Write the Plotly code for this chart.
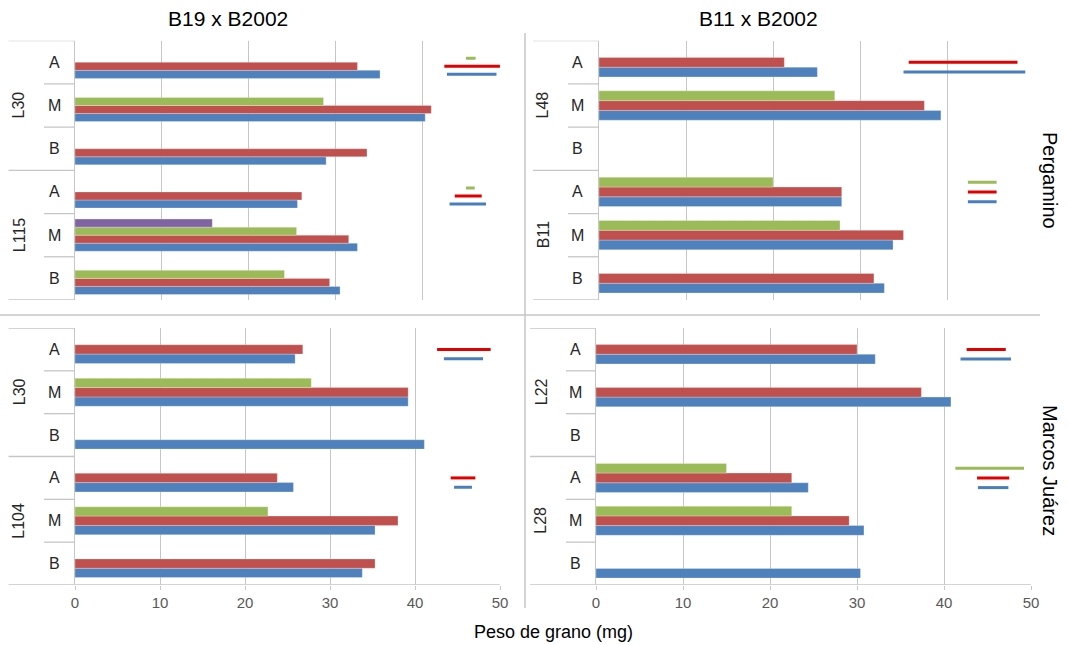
import plotly.graph_objects as go

W, H = 1068, 645

# ---------------- DATA ----------------
categories = ["A", "M", "B"]
x_ticks = [0, 10, 20, 30, 40, 50]

col_titles = ["B19 x B2002", "B11 x B2002"]
row_titles = ["Pergamino", "Marcos Juárez"]
x_title = "Peso de grano (mg)"

# Top-left: B19 x B2002, Pergamino  (rows: g1 A, M, B, g2 A, M, B)
tl_groups = ["L30", "L115"]
tl_blue = [35.1, 40.3, 28.9, 25.6, 32.5, 30.5]
tl_red = [32.5, 41.0, 33.6, 26.1, 31.5, 29.3]
tl_green = [None, 28.6, None, None, 25.5, 24.1]
tl_purple = [None, None, None, None, 15.8, None]
tl_lsd_blue = [(42.8, 48.5), (43.1, 47.3)]
tl_lsd_red = [(42.5, 48.9), (43.7, 46.8)]
tl_lsd_green = [(45.0, 46.1), (45.0, 46.0)]

# Top-right: B11 x B2002, Pergamino
tr_groups = ["L48", "B11"]
tr_blue = [25.1, 39.3, None, 27.9, 33.8, 32.8]
tr_red = [21.3, 37.4, None, 27.9, 35.0, 31.6]
tr_green = [None, 27.1, None, 20.0, 27.7, None]
tr_lsd_blue = [(35.0, 49.0), (42.4, 45.7)]
tr_lsd_red = [(35.6, 48.1), (42.4, 45.7)]
tr_lsd_green = [None, (42.4, 45.7)]

# Bottom-left: B19 x B2002, Marcos Juárez
bl_groups = ["L30", "L104"]
bl_blue = [25.9, 39.2, 41.1, 25.7, 35.3, 33.8]
bl_red = [26.8, 39.2, None, 23.8, 38.0, 35.3]
bl_green = [None, 27.8, None, None, 22.7, None]
bl_lsd_blue = [(43.4, 48.0), (44.6, 46.7)]
bl_lsd_red = [(42.6, 48.9), (44.2, 47.1)]
bl_lsd_green = [None, None]

# Bottom-right: B11 x B2002, Marcos Juárez
br_groups = ["L22", "L28"]
br_blue = [32.1, 40.8, None, 24.4, 30.8, 30.4]
br_red = [30.0, 37.4, None, 22.5, 29.1, None]
br_green = [None, None, None, 15.0, 22.5, None]
br_lsd_blue = [(41.9, 47.7), (43.9, 47.4)]
br_lsd_red = [(42.6, 47.1), (43.8, 47.5)]
br_lsd_green = [None, (41.3, 49.2)]

# ---------------- STYLE ----------------
C_BLUE, C_RED, C_GREEN, C_PURPLE = "#4F81BD", "#C0504D", "#9BBB59", "#8064A2"
L_BLUE, L_RED, L_GREEN = "#4A7EBB", "#E00000", "#9BBB59"
GRID = "#C6C6C6"
FONT = "Liberation Sans"


def px(x):
    return x / W


def py(y):
    return 1 - y / H


panels = [
    dict(ax="", groups=tl_groups, series=[(tl_blue, C_BLUE), (tl_red, C_RED), (tl_green, C_GREEN), (tl_purple, C_PURPLE)],
         lsd=[(tl_lsd_blue, L_BLUE), (tl_lsd_red, L_RED), (tl_lsd_green, L_GREEN)], slot=0.186,
         x0=75, x1=509.5, top=40.7, bot=300, outer=8.5, short=44, lab=54, glab=19, bottom=False),
    dict(ax="2", groups=tr_groups, series=[(tr_blue, C_BLUE), (tr_red, C_RED), (tr_green, C_GREEN)],
         lsd=[(tr_lsd_blue, L_BLUE), (tr_lsd_red, L_RED), (tr_lsd_green, L_GREEN)], slot=0.226,
         x0=599, x1=1034, top=40.7, bot=300, outer=533, short=568, lab=577, glab=543, bottom=False),
    dict(ax="3", groups=bl_groups, series=[(bl_blue, C_BLUE), (bl_red, C_RED), (bl_green, C_GREEN)],
         lsd=[(bl_lsd_blue, L_BLUE), (bl_lsd_red, L_RED), (bl_lsd_green, L_GREEN)], slot=0.218,
         x0=75, x1=500, top=328, bot=585, outer=8.5, short=44, lab=54, glab=19, bottom=True),
    dict(ax="4", groups=br_groups, series=[(br_blue, C_BLUE), (br_red, C_RED), (br_green, C_GREEN)],
         lsd=[(br_lsd_blue, L_BLUE), (br_lsd_red, L_RED), (br_lsd_green, L_GREEN)], slot=0.226,
         x0=596, x1=1031, top=328, bot=585, outer=530, short=566, lab=575, glab=541, bottom=True),
]

fig = go.Figure()
shapes = []
annotations = []
layout = {}

positions = [5, 4, 3, 2, 1, 0]  # top row first

for p in panels:
    xa, ya = "x" + p["ax"], "y" + p["ax"]
    n = len(p["series"])
    w = p["slot"]
    for k, (vals, color) in enumerate(p["series"]):
        fig.add_trace(go.Bar(
            x=vals, y=positions, orientation="h", xaxis=xa, yaxis=ya,
            marker=dict(color=color, line=dict(width=0.6, color="rgba(255,255,255,0.45)")),
            width=w, offset=-n * w / 2 + k * w, showlegend=False, hoverinfo="x",
        ))
    # LSD lines in row A of each group
    for k, (ints, color) in enumerate(p["lsd"]):
        for gi, iv in enumerate(ints):
            if iv is None:
                continue
            yc = positions[gi * 3] - n * w / 2 + (k + 0.5) * w
            fig.add_trace(go.Scatter(
                x=[iv[0], iv[1]], y=[yc, yc], mode="lines", xaxis=xa, yaxis=ya,
                line=dict(color=color, width=3), showlegend=False, hoverinfo="skip",
            ))

    key = p["ax"]
    layout["xaxis" + key] = dict(
        domain=[px(p["x0"]), px(p["x1"])], anchor=ya, range=[0, 50],
        tickvals=x_ticks, ticktext=[str(t) for t in x_ticks],
        showgrid=True, gridcolor=GRID, gridwidth=1.3, zeroline=False,
        showticklabels=p["bottom"], ticks="outside" if p["bottom"] else "",
        ticklen=4, tickcolor=GRID, tickwidth=1.3,
        tickfont=dict(family=FONT, size=15, color="#595959"),
        showline=False, fixedrange=True, automargin=False,
    )
    layout["yaxis" + key] = dict(
        domain=[py(p["bot"]), py(p["top"])], anchor=xa, range=[-0.5, 5.5],
        showticklabels=False, showgrid=False, zeroline=False,
        showline=True, linecolor=GRID, linewidth=1.3, ticks="", fixedrange=True, automargin=False,
    )

    # hierarchical category axis: divider lines
    for yb in [5.5, 4.5, 3.5, 2.5, 1.5, 0.5, -0.5]:
        long_line = yb in (5.5, 2.5, -0.5)
        xs = p["outer"] if long_line else p["short"]
        xe = p["x1"] if (yb == -0.5 and p["bottom"]) else p["x0"]
        shapes.append(dict(type="line", xref="paper", yref=ya, x0=px(xs), x1=px(xe), y0=yb, y1=yb,
                           line=dict(color=GRID, width=1.3)))
    for i, pos in enumerate(positions):
        annotations.append(dict(text=categories[i % 3], xref="paper", yref=ya, x=px(p["lab"]), y=pos,
                                showarrow=False, font=dict(family=FONT, size=16, color="#262626"),
                                xanchor="center", yanchor="middle"))
    for gi, g in enumerate(p["groups"]):
        annotations.append(dict(text=g, xref="paper", yref=ya, x=px(p["glab"]), y=positions[gi * 3 + 1],
                                showarrow=False, textangle=-90, font=dict(family=FONT, size=16, color="#262626"),
                                xanchor="center", yanchor="middle"))

# panel separators
shapes.append(dict(type="line", xref="paper", yref="paper", x0=px(525), x1=px(525), y0=py(33), y1=py(608),
                   line=dict(color=GRID, width=1.5)))
shapes.append(dict(type="line", xref="paper", yref="paper", x0=px(0), x1=px(1040), y0=py(315), y1=py(315),
                   line=dict(color=GRID, width=1.5)))


def label(text, x, y, size, angle=0):
    annotations.append(dict(text=text, xref="paper", yref="paper", x=px(x), y=py(y), showarrow=False,
                            xanchor="center", yanchor="middle", textangle=angle,
                            font=dict(family=FONT, size=size, color="#000000")))


label(col_titles[0], 228, 19, 21)
label(col_titles[1], 758, 19, 21)
label(row_titles[0], 1050, 180, 20, 90)
label(row_titles[1], 1050, 470, 20, 90)
label(x_title, 553, 632, 18)

fig.update_layout(
    width=W, height=H, margin=dict(l=0, r=0, t=0, b=0, autoexpand=False),
    paper_bgcolor="white", plot_bgcolor="white",
    barmode="overlay", showlegend=False,
    shapes=shapes, annotations=annotations,
    font=dict(family=FONT),
    **layout,
)

fig.write_html("out.html", config={"displayModeBar": False},
               post_script="document.body.style.margin='0px';")
